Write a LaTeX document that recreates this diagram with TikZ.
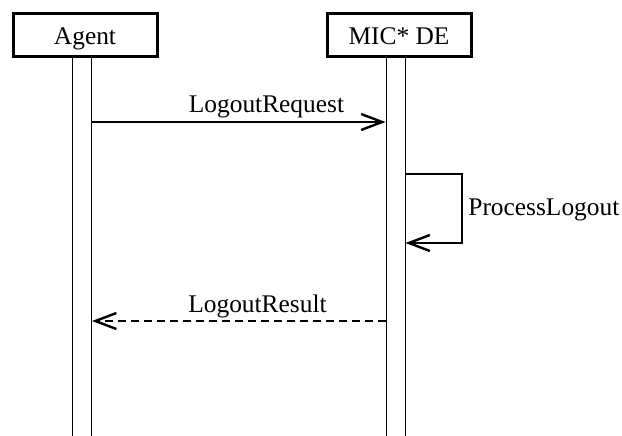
\documentclass[tikz,border=0pt]{standalone}
\usepackage{fontspec}
\setmainfont{Liberation Serif}
\usetikzlibrary{arrows.meta}

\begin{document}
\begin{tikzpicture}[x=0.5pt,y=-0.5pt,
    font=\fontsize{12.7}{15}\selectfont,
    actor/.style={draw,line width=1.5pt,minimum width=72pt,minimum height=21.5pt,inner sep=0pt,text height=11pt,text depth=1.5pt},
    lifeline/.style={draw,line width=0.5pt,minimum width=9.5pt,minimum height=190pt,inner sep=0pt,anchor=north},
    msg/.style={line width=1.2pt,-{Straight Barb[length=10.5pt,width=8pt,line width=1.2pt]}},
    reply/.style={msg,dash pattern=on 4pt off 2.5pt}]
      \useasboundingbox (0,0) rectangle (622,435);
      \node[actor] (agent) at (85,34.5) {Agent};
      \node[actor] (mic) at (399,34.5) {MIC* DE};
      \node[lifeline] (agentLife) at (82,56) {};
      \node[lifeline] (micLife) at (395.5,56) {};
      % messages
      \draw[msg] (agentLife.east |- 0,122) -- (micLife.west |- 0,122);
      \node[anchor=base] (request) at (266.5,112) {LogoutRequest};
      \coordinate (loopTop) at (462,174);
      \coordinate (loopBot) at (462,243);
      \draw[msg] (micLife.east |- loopTop) -- (loopTop) -- (loopBot) -- (micLife.east |- loopBot);
      \node[anchor=base west,inner sep=0pt] (process) at (468,215) {ProcessLogout};
      \draw[reply] (micLife.west |- 0,321) -- (agentLife.east |- 0,321);
      \node[anchor=base] (result) at (257.5,312) {LogoutResult};
\end{tikzpicture}
\end{document}
